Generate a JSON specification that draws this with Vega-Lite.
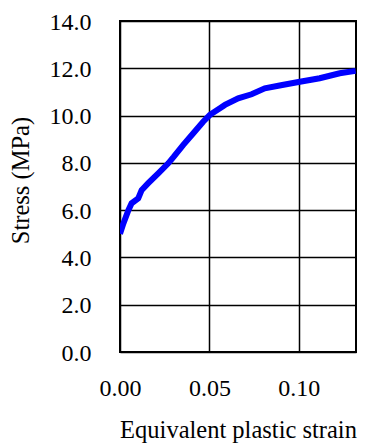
{
  "$schema": "https://vega.github.io/schema/vega-lite/v6.json",
  "width": 236,
  "height": 331,
  "autosize": {"type": "none"},
  "padding": {"left": 120, "top": 21, "right": 18, "bottom": 91},
  "background": "white",
  "config": {
    "view": {"stroke": "black", "strokeWidth": 2},
    "font": "Liberation Serif",
    "axis": {
      "labelFont": "Liberation Serif",
      "titleFont": "Liberation Serif",
      "labelFontSize": 24,
      "titleFontSize": 24.5,
      "titleFontWeight": "normal",
      "labelColor": "black",
      "titleColor": "black",
      "gridColor": "black",
      "gridWidth": 1.5,
      "gridOpacity": 1,
      "domain": false,
      "ticks": false,
      "labelFlush": false
    }
  },
  "data": {
    "values": [
      {"strain": 0.0, "stress": 5.0},
      {"strain": 0.0019, "stress": 5.44},
      {"strain": 0.0047, "stress": 6.0},
      {"strain": 0.0065, "stress": 6.29},
      {"strain": 0.0102, "stress": 6.5},
      {"strain": 0.0121, "stress": 6.85},
      {"strain": 0.0158, "stress": 7.14},
      {"strain": 0.0214, "stress": 7.56},
      {"strain": 0.027, "stress": 7.98},
      {"strain": 0.030, "stress": 8.25},
      {"strain": 0.0354, "stress": 8.76},
      {"strain": 0.041, "stress": 9.25},
      {"strain": 0.0465, "stress": 9.74},
      {"strain": 0.0503, "stress": 10.03},
      {"strain": 0.0559, "stress": 10.31},
      {"strain": 0.0587, "stress": 10.45},
      {"strain": 0.0661, "stress": 10.73},
      {"strain": 0.0736, "stress": 10.9},
      {"strain": 0.081, "stress": 11.15},
      {"strain": 0.09, "stress": 11.28},
      {"strain": 0.1006, "stress": 11.43},
      {"strain": 0.1117, "stress": 11.58},
      {"strain": 0.1229, "stress": 11.79},
      {"strain": 0.1318, "stress": 11.89}
    ]
  },
  "mark": {"type": "line", "color": "#0000FF", "strokeWidth": 6, "clip": true},
  "encoding": {
    "x": {
      "field": "strain",
      "type": "quantitative",
      "scale": {"domain": [0, 0.132], "nice": false, "zero": false},
      "axis": {
        "values": [0, 0.05, 0.1],
        "format": ".2f",
        "labelBaseline": "alphabetic",
        "labelPadding": 43,
        "labelFlush": false,
        "title": "Equivalent plastic strain",
        "titleBaseline": "alphabetic",
        "titleY": 85
      }
    },
    "y": {
      "field": "stress",
      "type": "quantitative",
      "scale": {"domain": [0, 14], "nice": false},
      "axis": {
        "values": [0, 2, 4, 6, 8, 10, 12, 14],
        "format": ".1f",
        "labelPadding": 29,
        "labelOffset": 1,
        "title": "Stress (MPa)",
        "titleBaseline": "alphabetic",
        "titleX": -92,
        "titleY": 159
      }
    }
  }
}
